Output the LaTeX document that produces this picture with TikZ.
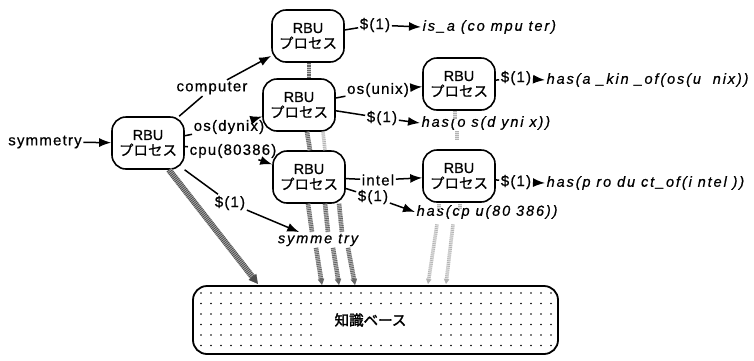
\documentclass[tikz,border=0pt]{standalone}
\usepackage{fontspec}
\setmainfont{Liberation Sans}[FakeBold=0.6]
\newfontfamily\jpfont{Noto Sans CJK JP}[FakeBold=0.6]
\newfontfamily\jpbold{Noto Sans CJK JP}[FakeBold=2]
\newfontfamily\labfont{Liberation Sans}[LetterSpace=8,FakeBold=0.6]
\newfontfamily\resfont{Liberation Sans}[LetterSpace=13,FakeBold=0.6]
\usetikzlibrary{arrows.meta,calc}
\begin{document}
\begin{tikzpicture}[x=1pt,y=-1pt,
  rbu/.style={draw,line width=1.6pt,rounded corners=14pt,minimum width=72pt,minimum height=52pt,
    inner sep=0pt,align=center,font=\fontsize{14.5}{15.5}\selectfont},
  lab/.style={inner sep=1.5pt,font=\labfont\fontsize{15}{16}\selectfont},
  res/.style={inner sep=1.5pt,anchor=west,font=\resfont\itshape\fontsize{14.5}{16}\selectfont},
  con/.style={line width=1.5pt},
  arr/.style={line width=1.5pt,-{Latex[length=12pt,width=9pt]}},
  fdark/.style={line width=6pt,draw=black!70,dash pattern=on 0.9pt off 0.9pt,
    preaction={draw=gray!50,line width=6pt,solid}},
  fmid/.style={line width=4.5pt,draw=black!60,dash pattern=on 0.9pt off 0.9pt,
    preaction={draw=gray!45,line width=4.5pt,solid}},
  flight/.style={line width=3.5pt,draw=gray!60,dash pattern=on 0.7pt off 1.2pt,
    preaction={draw=gray!22,line width=3.5pt,solid}},
  kbbox/.style={draw,line width=1.8pt,rounded corners=14pt,minimum width=365pt,minimum height=68pt,
    inner sep=0pt,font=\jpbold\fontsize{14.5}{15}\selectfont}
]
\fill[white] (0,0) rectangle (754,360);
\useasboundingbox (0,0) rectangle (754,360);

% knowledge base
\node[kbbox] (kb) at (375.5,320) {\hspace*{-10pt}知識ベース};
\foreach \r in {0,...,5}{\foreach \c in {0,...,35}{
  \pgfmathtruncatemacro\skipit{and(and(\r>1,\r<5),and(\c>11,\c<24))}
  \ifnum\skipit=0 \fill[black] (201+10*\c,293+10.5*\r) circle (0.9pt);\fi
}}

% RBU process nodes
\node[rbu] (root) at (148,143) {RBU\\{\jpfont プロセス}};
\node[rbu] (B) at (308,36) {RBU\\{\jpfont プロセス}};
\node[rbu] (C) at (299,105) {RBU\\{\jpfont プロセス}};
\node[rbu] (D) at (309,177) {RBU\\{\jpfont プロセス}};
\node[rbu] (E) at (459,84) {RBU\\{\jpfont プロセス}};
\node[rbu] (F) at (459,176) {RBU\\{\jpfont プロセス}};

% labels
\node[lab] (sym) at (45,142) {symmetry};
\node[lab] (comp) at (212,88) {computer};
\node[lab] (osd) at (229,127) {os(dynix)};
\node[lab] (cpu) at (233,151) {cpu(80386)};
\node[lab] (d0) at (230,203) {\$(1)};
\node[res,anchor=center] (symr) at (318,240) {symme try};
\node[lab] (d1) at (375,25) {\$(1)};
\node[res] (isa) at (421,27) {is\_a (co mpu ter)};
\node[lab] (osu) at (378,90) {os(unix)};
\node[lab] (d2) at (382,118) {\$(1)};
\node[res] (hos) at (420,123) {has(o s(d yni x))};
\node[lab] (intel) at (378,180) {intel};
\node[lab] (d3) at (373,197) {\$(1)};
\node[res] (hcpu) at (415,212) {has(cp u(80 386))};
\node[lab] (d4) at (516,78) {\$(1)};
\node[res] (hkind) at (545,80) {has(a \_kin \_of(os(u\ \ nix))};
\node[lab] (d5) at (516,182) {\$(1)};
\node[res] (hprod) at (545,183) {has(p ro du ct\_of(i ntel ))};

% connectors
\draw[arr] (sym) -- (root);
\draw[con] (root) -- (comp); \draw[arr] (comp) -- (B);
\draw[con] (root) -- (osd);  \draw[arr] (osd) -- (C);
\draw[con] (root) -- (cpu);  \draw[arr] (cpu) -- (D);
\draw[con] (root) -- (d0);   \draw[arr] (d0) -- (symr);
\draw[con] (B) -- (d1);      \draw[arr] (d1) -- (isa.west);
\draw[con] (C) -- (osu);     \draw[arr] (osu) -- (E);
\draw[con] (C) -- (d2);      \draw[arr] (d2) -- (hos.west);
\draw[con] (D) -- (intel);   \draw[arr] (intel) -- (F);
\draw[con] (D) -- (d3);      \draw[arr] (d3) -- (hcpu.west);
\draw[con] (E) -- (d4);      \draw[arr] (d4) -- (hkind.west);
\draw[con] (F) -- (d5);      \draw[arr] (d5) -- (hprod.west);

% knowledge flows (hatched)
\coordinate (k1) at (258,284);
\coordinate (k2) at (322,285);
\coordinate (k3) at (339,285);
\coordinate (k4) at (355,285);
\coordinate (k5) at (428,284);
\coordinate (k6) at (446,284);
\draw[fdark,-{Triangle[length=9pt,width=9pt]}] (root) -- (k1);
\draw[fmid] ([xshift=1pt]B.south) -- ([xshift=10pt]C.north);
\draw[fmid] ([xshift=8pt]C.south) -- ([xshift=1pt]D.north);
\draw[flight] ([xshift=24pt]C.south) -- ([xshift=16pt]D.north);
\draw[fmid] ([xshift=-1pt]D.south) -- ([xshift=-6pt]symr.north);
\draw[fmid] ([xshift=16pt]D.south) -- ([xshift=10pt]symr.north);
\draw[fmid] ([xshift=30pt]D.south) -- ([xshift=24pt]symr.north);
\draw[fmid,-{Triangle[length=6pt,width=6pt]}] ([xshift=-2pt]symr.south) -- (k2);
\draw[fmid,-{Triangle[length=6pt,width=6pt]}] ([xshift=15pt]symr.south) -- (k3);
\draw[fmid,-{Triangle[length=6pt,width=6pt]}] ([xshift=30pt]symr.south) -- (k4);
\draw[flight] ([xshift=-4pt]E.south) -- ++(0,8);
\draw[flight] ($(F.north)+(-2,-18)$) -- ($(F.north)+(-2,-10)$);
\draw[flight] ($(F.south)+(-20,1)$) -- ++(0,5);
\draw[flight] ($(F.south)+(1,1)$) -- ++(0,5);
\draw[flight,-{Triangle[length=5pt,width=5pt]}] ($(hcpu.south west)+(22,4)$) -- (k5);
\draw[flight,-{Triangle[length=5pt,width=5pt]}] ($(hcpu.south west)+(38,4)$) -- (k6);
\end{tikzpicture}
\end{document}
